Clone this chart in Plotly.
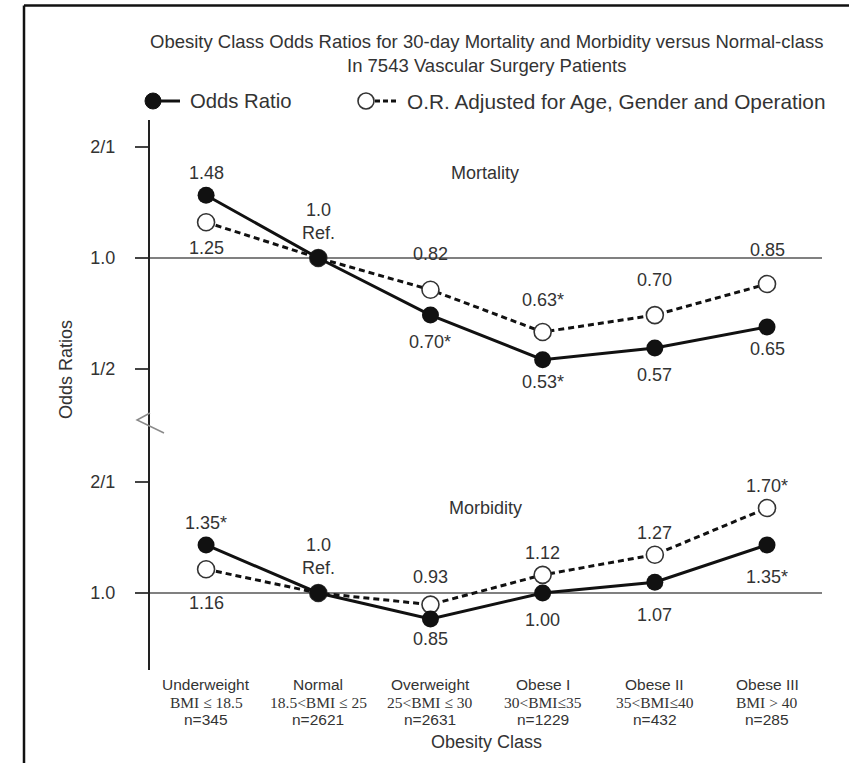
import numpy as np
import plotly.graph_objects as go

# ---------------- data ----------------
classes = ["Underweight", "Normal", "Overweight", "Obese I", "Obese II", "Obese III"]
bmi_ranges = ["BMI ≤ 18.5", "18.5<BMI ≤ 25", "25<BMI ≤ 30", "30<BMI≤35", "35<BMI≤40", "BMI > 40"]
n_counts = ["n=345", "n=2621", "n=2631", "n=1229", "n=432", "n=285"]

mort_or = [1.48, 1.00, 0.70, 0.53, 0.57, 0.65]
mort_adj = [1.25, 1.00, 0.82, 0.63, 0.70, 0.85]
morb_or = [1.35, 1.00, 0.85, 1.00, 1.07, 1.35]
morb_adj = [1.16, 1.00, 0.93, 1.12, 1.27, 1.70]

mort_or_labels = ["1.48", None, "0.70*", "0.53*", "0.57", "0.65"]
mort_adj_labels = ["1.25", None, "0.82", "0.63*", "0.70", "0.85"]
morb_or_labels = ["1.35*", None, "0.85", "1.00", "1.07", "1.35*"]
morb_adj_labels = ["1.16", None, "0.93", "1.12", "1.27", "1.70*"]

ytick_vals_mort = [0.5, 1.0, 2.0]
ytick_text_mort = ["1/2", "1.0", "2/1"]
ytick_vals_morb = [1.0, 2.0]
ytick_text_morb = ["1.0", "2/1"]

# ---------------- styling / layout helpers ----------------
W_FIG, H_FIG = 849, 763
PL, PR, PT, PB = 150, 822, 120, 670
PW, PH = PR - PL, PB - PT


def px_x(px):
    return (px - PL) / PW


def px_y(py):
    return (PB - py) / PH


SPLIT = px_y(420)
BLACK = "#111111"
TXT = "#333333"
SANS = "Liberation Sans, Arial, sans-serif"
SERIF = "Liberation Serif, Times New Roman, serif"

# label pixel shifts (positive = up)
mort_or_shift = [22, 0, -27, -22, -27, -22]
mort_adj_shift = [-26, 0, 36, 32, 35, 34]
morb_or_shift = [22, 0, -20, -27, -33, -32]
morb_adj_shift = [-34, 0, 28, 22, 22, 22]

fig = go.Figure()


def add_panel(yref, or_vals, adj_vals):
    fig.add_trace(go.Scatter(
        x=classes, y=adj_vals, xaxis="x", yaxis=yref, mode="lines+markers",
        line=dict(color=BLACK, width=3, dash="6px,4px"),
        marker=dict(size=17, color="white", line=dict(color="#333333", width=1.6)),
        showlegend=False, hoverinfo="skip"))
    fig.add_trace(go.Scatter(
        x=classes, y=or_vals, xaxis="x", yaxis=yref, mode="lines+markers",
        line=dict(color=BLACK, width=3),
        marker=dict(size=17, color=BLACK),
        showlegend=False, hoverinfo="skip"))


add_panel("y", mort_or, mort_adj)
add_panel("y2", morb_or, morb_adj)

annotations = []


def txt(x, y, text, size=18, family=SANS, xref="paper", yref="paper", **kw):
    d = dict(x=x, y=y, xref=xref, yref=yref, text=text, showarrow=False,
             xanchor="center", yanchor="middle",
             font=dict(size=size, color=TXT, family=family))
    d.update(kw)
    annotations.append(d)


def add_labels(yref, vals, labels, shifts):
    for c, v, t, s in zip(classes, vals, labels, shifts):
        if t is None:
            continue
        txt(c, np.log10(v), t, xref="x", yref=yref, yshift=s)


add_labels("y", mort_or, mort_or_labels, mort_or_shift)
add_labels("y", mort_adj, mort_adj_labels, mort_adj_shift)
add_labels("y2", morb_or, morb_or_labels, morb_or_shift)
add_labels("y2", morb_adj, morb_adj_labels, morb_adj_shift)

# reference labels
for yref, v in (("y", mort_or[1]), ("y2", morb_or[1])):
    txt(classes[1], np.log10(v), "1.0<br>Ref.", xref="x", yref=yref, yshift=37)

# panel labels
txt(px_x(485), px_y(173), "Mortality")
txt(px_x(485), px_y(508), "Morbidity")

# title
txt(px_x(486), px_y(53),
    "Obesity Class Odds Ratios for 30-day Mortality and Morbidity versus Normal-class<br>In 7543 Vascular Surgery Patients",
    size=18.5)

# legend texts
txt(px_x(188), px_y(101), "Odds Ratio", size=20.3, xanchor="left")
txt(px_x(405), px_y(101), "O.R. Adjusted for Age, Gender and Operation", size=20.8, xanchor="left")

# axis titles
txt(px_x(66), px_y(370), "Odds Ratios", textangle=-90)
txt(px_x(486), px_y(742), "Obesity Class")

# x category labels (three rows)
for c, b, n in zip(classes, bmi_ranges, n_counts):
    txt(c, px_y(684), c, size=15.5, xref="x")
    txt(c, px_y(702), b, size=15.5, family=SERIF, xref="x")
    txt(c, px_y(719), n, size=15.5, xref="x")

shapes = []
# 1.0 reference lines
for yref in ("y", "y2"):
    shapes.append(dict(type="line", xref="paper", yref=yref, x0=0, x1=1, y0=1.0, y1=1.0,
                       line=dict(color="#808080", width=2), layer="below"))
# axis break marker
shapes.append(dict(type="path", xref="paper", yref="paper",
                   path=f"M {px_x(150)} {px_y(413)} L {px_x(137)} {px_y(420)} L {px_x(164)} {px_y(433)}",
                   line=dict(color="#8a8a8a", width=1.5)))
# legend glyphs
shapes.append(dict(type="line", xref="paper", yref="paper", x0=px_x(152), x1=px_x(180),
                   y0=px_y(101), y1=px_y(101), line=dict(color=BLACK, width=3)))
shapes.append(dict(type="circle", xref="paper", yref="paper", xsizemode="pixel", ysizemode="pixel",
                   xanchor=px_x(153), yanchor=px_y(101), x0=-8, x1=8, y0=-8, y1=8,
                   fillcolor=BLACK, line=dict(color=BLACK, width=1)))
shapes.append(dict(type="line", xref="paper", yref="paper", x0=px_x(375), x1=px_x(398),
                   y0=px_y(101), y1=px_y(101), line=dict(color=BLACK, width=3, dash="5px,3px")))
shapes.append(dict(type="circle", xref="paper", yref="paper", xsizemode="pixel", ysizemode="pixel",
                   xanchor=px_x(366), yanchor=px_y(101), x0=-8, x1=8, y0=-8, y1=8,
                   fillcolor="white", line=dict(color="#333333", width=1.6)))
# figure frame (top and left)
shapes.append(dict(type="line", xref="paper", yref="paper", x0=px_x(24), x1=px_x(849),
                   y0=px_y(5.5), y1=px_y(5.5), line=dict(color=BLACK, width=2.5)))
shapes.append(dict(type="line", xref="paper", yref="paper", x0=px_x(24), x1=px_x(24),
                   y0=px_y(5.5), y1=px_y(763), line=dict(color=BLACK, width=2.5)))

yaxis_common = dict(type="log", showline=True, linecolor="#222222", linewidth=2,
                    ticks="outside", ticklen=13, tickwidth=2, tickcolor="#444444",
                    showgrid=False, zeroline=False, anchor="x",
                    tickfont=dict(size=18, color=TXT, family=SANS), ticklabelstandoff=16)

fig.update_layout(
    width=W_FIG, height=H_FIG,
    margin=dict(l=PL, r=W_FIG - PR, t=PT, b=H_FIG - PB),
    paper_bgcolor="white", plot_bgcolor="white",
    font=dict(family=SANS, color=TXT),
    xaxis=dict(type="category", range=[-0.5, 5.49], domain=[0, 1], anchor="y2",
               showline=False, showgrid=False, zeroline=False, showticklabels=False, ticks=""),
    yaxis=dict(domain=[SPLIT, 1], range=[np.log10(2 ** -1.4595), np.log10(2 ** 1.2432)],
               tickvals=ytick_vals_mort, ticktext=ytick_text_mort, **yaxis_common),
    yaxis2=dict(domain=[0, SPLIT], range=[np.log10(2 ** -0.6937), np.log10(2 ** 1.5586)],
                tickvals=ytick_vals_morb, ticktext=ytick_text_morb, **yaxis_common),
    annotations=annotations,
    shapes=shapes,
    showlegend=False,
)

fig.write_html("out.html", config={"displayModeBar": False},
               post_script="document.body.style.margin='0';")
